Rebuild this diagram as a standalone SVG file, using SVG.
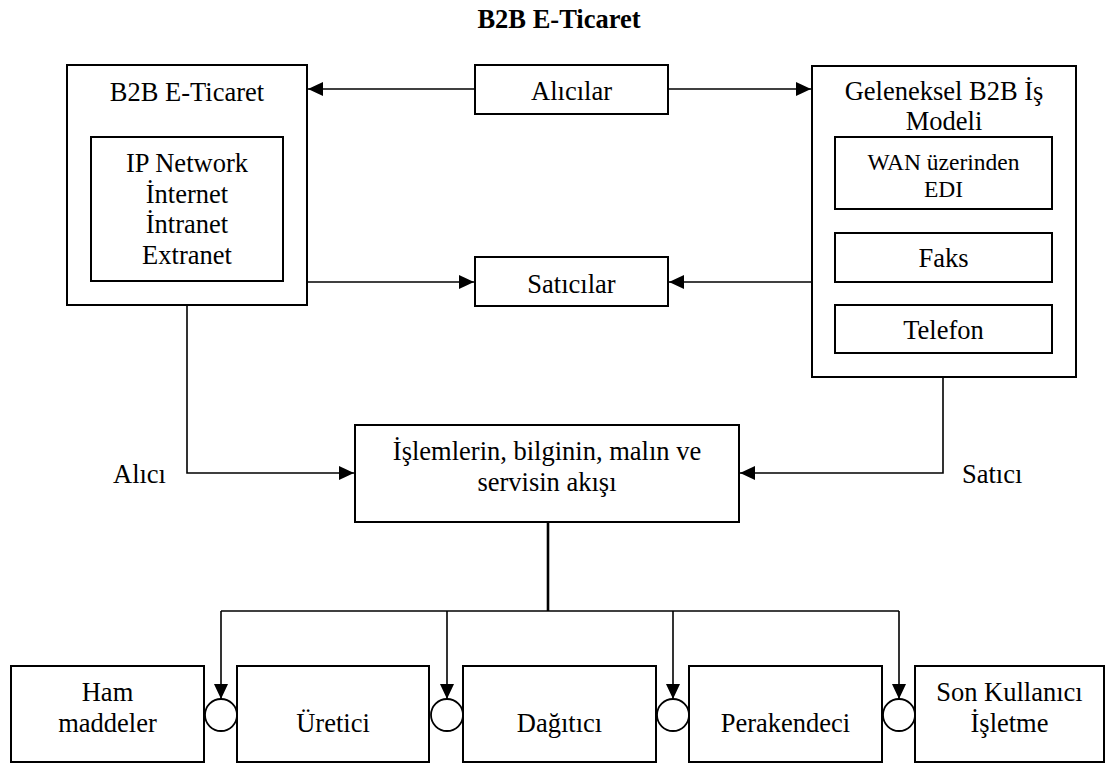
<svg xmlns="http://www.w3.org/2000/svg" width="1107" height="765" viewBox="0 0 1107 765">
<style>
.box{fill:#fff;stroke:#000;stroke-width:2}
.t{font-family:"Liberation Serif","Times New Roman",serif;font-size:26.5px;fill:#000;text-anchor:middle}
.s{font-size:23.5px}
.ln{fill:none;stroke:#000;stroke-width:1.6}
.trunk{fill:none;stroke:#000;stroke-width:2.6}
.c{fill:#fff;stroke:#000;stroke-width:1.8}
</style>
<defs>
<marker id="ah" markerUnits="userSpaceOnUse" markerWidth="16" markerHeight="16" refX="15" refY="7" orient="auto">
<path d="M0,0 L15,7 L0,14 z" fill="#000"/>
</marker>
</defs>
<rect width="1107" height="765" fill="#fff"/>
<text class="t" x="559" y="28" font-weight="bold">B2B E-Ticaret</text>

<g id="connectors">
<line class="ln" x1="475" y1="89" x2="308" y2="89" marker-end="url(#ah)"/>
<line class="ln" x1="668" y1="89" x2="811" y2="89" marker-end="url(#ah)"/>
<line class="ln" x1="307" y1="282" x2="474" y2="282" marker-end="url(#ah)"/>
<line class="ln" x1="812" y1="282" x2="669" y2="282" marker-end="url(#ah)"/>
<polyline class="ln" points="187,305 187,473 354,473" marker-end="url(#ah)"/>
<polyline class="ln" points="943,377 943,473 740,473" marker-end="url(#ah)"/>
<line class="trunk" x1="548" y1="522" x2="548" y2="611"/>
<line class="ln" x1="221" y1="611" x2="899" y2="611"/>
<line class="ln" x1="221" y1="611" x2="221" y2="699" marker-end="url(#ah)"/>
<line class="ln" x1="447" y1="611" x2="447" y2="699" marker-end="url(#ah)"/>
<line class="ln" x1="673" y1="611" x2="673" y2="699" marker-end="url(#ah)"/>
<line class="ln" x1="899" y1="611" x2="899" y2="699" marker-end="url(#ah)"/>
<circle class="c" cx="221" cy="715" r="16"/>
<circle class="c" cx="447" cy="715" r="16"/>
<circle class="c" cx="673" cy="715" r="16"/>
<circle class="c" cx="899" cy="715" r="16"/>
</g>

<g id="b2b">
<rect class="box" x="67" y="65" width="240" height="240"/>
<text class="t" x="187" y="101">B2B E-Ticaret</text>
</g>
<g id="ipnetwork">
<rect class="box" x="91" y="137" width="192" height="144"/>
<text class="t" x="187" y="172">IP Network</text>
<text class="t" x="187" y="202.5">İnternet</text>
<text class="t" x="187" y="233">İntranet</text>
<text class="t" x="187" y="263.5">Extranet</text>
</g>
<g id="alicilar">
<rect class="box" x="475" y="65" width="193" height="49"/>
<text class="t" x="571.5" y="100">Alıcılar</text>
</g>
<g id="saticilar">
<rect class="box" x="475" y="257" width="193" height="49"/>
<text class="t" x="571.5" y="293">Satıcılar</text>
</g>
<g id="geleneksel">
<rect class="box" x="812" y="66" width="264" height="311"/>
<text class="t" x="944" y="100">Geleneksel B2B İş</text>
<text class="t" x="944" y="130">Modeli</text>
</g>
<g id="wan">
<rect class="box" x="835" y="137" width="217" height="72"/>
<text class="t s" x="943.5" y="170">WAN üzerinden</text>
<text class="t s" x="943.5" y="197">EDI</text>
</g>
<g id="faks">
<rect class="box" x="835" y="233" width="217" height="49"/>
<text class="t" x="943.5" y="267">Faks</text>
</g>
<g id="telefon">
<rect class="box" x="835" y="305" width="217" height="48"/>
<text class="t" x="943.5" y="339">Telefon</text>
</g>
<g id="akis">
<rect class="box" x="355" y="425" width="384" height="97"/>
<text class="t" x="547" y="460">İşlemlerin, bilginin, malın ve</text>
<text class="t" x="547" y="491">servisin akışı</text>
</g>
<g id="alici-label">
<text class="t" x="113" y="483" style="text-anchor:start">Alıcı</text>
</g>
<g id="satici-label">
<text class="t" x="962" y="483" style="text-anchor:start">Satıcı</text>
</g>
<g id="ham">
<rect class="box" x="11" y="666" width="193" height="96"/>
<text class="t" x="107.5" y="701">Ham</text>
<text class="t" x="107.5" y="732">maddeler</text>
</g>
<g id="uretici">
<rect class="box" x="237" y="666" width="192" height="96"/>
<text class="t" x="333" y="732">Üretici</text>
</g>
<g id="dagitici">
<rect class="box" x="463" y="666" width="193" height="96"/>
<text class="t" x="559.5" y="732">Dağıtıcı</text>
</g>
<g id="perakendeci">
<rect class="box" x="689" y="666" width="193" height="96"/>
<text class="t" x="785.5" y="732">Perakendeci</text>
</g>
<g id="sonkullanici">
<rect class="box" x="915" y="666" width="189" height="96"/>
<text class="t" x="1009.5" y="701">Son Kullanıcı</text>
<text class="t" x="1009.5" y="732">İşletme</text>
</g>
</svg>
